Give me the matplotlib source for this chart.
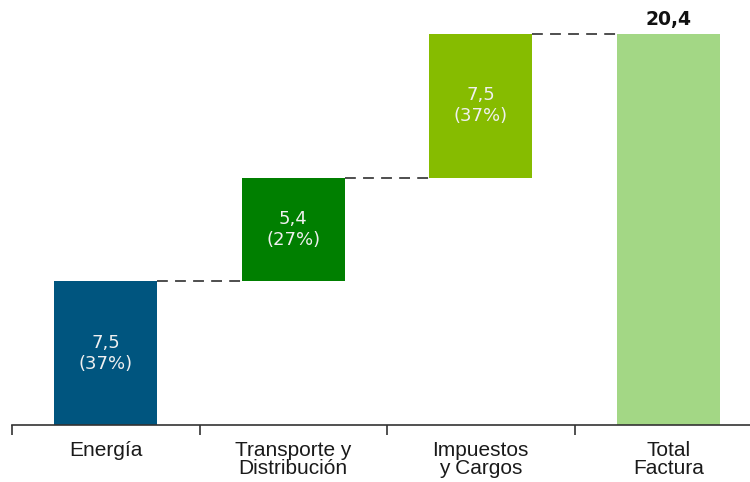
import matplotlib
matplotlib.use("Agg")
import matplotlib.pyplot as plt

categories = ["Energía", "Transporte y\nDistribución", "Impuestos\ny Cargos", "Total\nFactura"]
values = [7.5, 5.4, 7.5, 20.4]
labels = ["7,5\n(37%)", "5,4\n(27%)", "7,5\n(37%)", "20,4"]
colors = ["#00557F", "#007F00", "#86BC00", "#A3D785"]

bottoms = [0, 7.5, 12.9, 0]

W, H = 750, 482
fig = plt.figure(figsize=(7.5, 4.82), dpi=100)
ax = fig.add_axes([12 / W, 57 / H, 738 / W, 425 / H])
ax.set_xlim(-0.5, -0.5 + 738 / 187.5)
ax.set_ylim(0, 425 / 19.17)

bw = 0.55
x = list(range(len(categories)))
ax.bar(x, values, bottom=bottoms, width=bw, color=colors, zorder=2)

tops = [b + v for b, v in zip(bottoms, values)]
for i in range(len(categories) - 1):
    ax.plot([i + bw / 2, i + 1 - bw / 2], [tops[i], tops[i]], color="#404040",
            lw=1.3, ls=(0, (6, 4)), zorder=1)

for i in range(3):
    ax.text(i, bottoms[i] + values[i] / 2, labels[i], ha="center", va="center",
            color="#F0F0F0", fontsize=13, linespacing=1.2, family="DejaVu Sans")
ax.text(3, tops[3] + 0.25, labels[3], ha="center", va="bottom", color="#111111",
        fontsize=13.5, fontweight="bold", family="DejaVu Sans")

for s in ["top", "right", "left"]:
    ax.spines[s].set_visible(False)
ax.spines["bottom"].set_color("#333333")
ax.spines["bottom"].set_linewidth(1.2)
ax.set_yticks([])
ax.set_xticks([i - 0.5 for i in range(4)])
ax.set_xticklabels([])
ax.tick_params(axis="x", length=7, width=1.2, color="#333333", direction="out")
for i, c in enumerate(categories):
    ax.text(i, -0.85, c, ha="center", va="top", fontsize=15,
            color="#1A1A1A", linespacing=0.93, family=["Liberation Sans", "DejaVu Sans"])

fig.savefig("out.png", dpi=100)
